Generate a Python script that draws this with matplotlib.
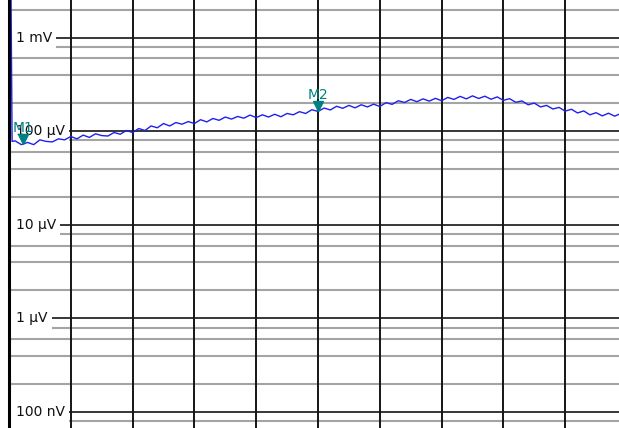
import numpy as np
import matplotlib
matplotlib.use("Agg")
import matplotlib.pyplot as plt
from matplotlib import transforms
from matplotlib.patches import Rectangle


# trace level in uV, first point is the DC spike, then one point every 0.1 division
level_uv = [5000, 78,
            79, 72, 76, 72, 81, 78, 77, 83, 81, 88,
            83, 91, 86, 94, 90, 89, 97, 93, 102, 97,
            107, 102, 114, 109, 121, 114, 124, 119, 127, 121,
            133, 126, 137, 131, 142, 135, 144, 138, 149, 140,
            150, 142, 152, 143, 155, 150, 162, 155, 170, 163,
            177, 169, 185, 176, 189, 178, 192, 182, 195, 184,
            202, 194, 212, 203, 219, 207, 222, 210, 225, 212,
            230, 219, 236, 222, 239, 224, 237, 220, 233, 214,
            223, 204, 211, 192, 200, 182, 189, 173, 180, 164,
            172, 157, 165, 150, 158, 146, 156, 145, 155, 144]
freq_div = np.concatenate([[0.03, 0.05], np.arange(1, 101) * 0.1])

marker_names = ["M1", "M2"]
marker_div = [0.23, 5.0]
marker_uv = [73, 166]

ytick_values = [1e-3, 1e-4, 1e-5, 1e-6, 1e-7]
ytick_labels = ["1 mV", "100 µV", "10 µV", "1 µV", "100 nV"]

teal = "#008080"
trace_blue = "#1f1fee"

fig = plt.figure(figsize=(6.19, 4.28), dpi=100)
ax = fig.add_axes([9 / 619, 0, 618 / 619, 1])
ax.set_yscale("log")
ax.set_xlim(0, 10)
ax.set_ylim(6.76e-8, 2.527e-3)
ax.set_xticks([])
ax.set_yticks([])
ax.minorticks_off()
for s in ["top", "right", "bottom"]:
    ax.spines[s].set_visible(False)
ax.spines["left"].set_linewidth(2.2)
ax.spines["left"].set_color("black")
ax.spines["left"].set_zorder(7)

# grid: gray lines at 2,4,6,8 per decade, black at decades
for dec in range(-8, -2):
    for m in [2, 4, 6, 8]:
        ax.axhline(m * 10.0 ** dec, color="#a4a4a4", lw=1.5, zorder=1)
for v in ytick_values:
    ax.axhline(v, color="black", lw=1.1, zorder=2)
for d in range(1, 11):
    ax.axvline(d, color="#151515", lw=1.4, zorder=2)

# level labels on a white box, left inside the plot
lab_tr = transforms.blended_transform_factory(ax.transAxes, ax.transData)
for v, t in zip(ytick_values, ytick_labels):
    ax.text(0.0113, v, t, transform=lab_tr, ha="left", va="center",
            fontsize=10, color="#111111", zorder=3,
            bbox=dict(boxstyle="square,pad=0.3", fc="white", ec="none"))
    ax.add_patch(Rectangle((0, v / 1.3), 0.012, v * 1.3 - v / 1.3,
                           transform=lab_tr, fc="white", ec="none", zorder=3))

ax.plot(freq_div, np.array(level_uv) * 1e-6, color=trace_blue, lw=1.0, zorder=4)

# markers: triangle tip sits on the trace
tri_tr = transforms.offset_copy(ax.transData, fig=fig, y=3.3, units="points")
for name, d, v in zip(marker_names, marker_div, marker_uv):
    ax.plot([d], [v * 1e-6], marker="v", ms=6.8, color=teal, mec=teal,
            transform=tri_tr, zorder=5, clip_on=False)
    ax.annotate(name, (d, v * 1e-6), xytext=(0, 8.6), textcoords="offset points",
                ha="center", va="baseline", fontsize=10, color=teal, zorder=6)

fig.savefig("out.png", dpi=100)
